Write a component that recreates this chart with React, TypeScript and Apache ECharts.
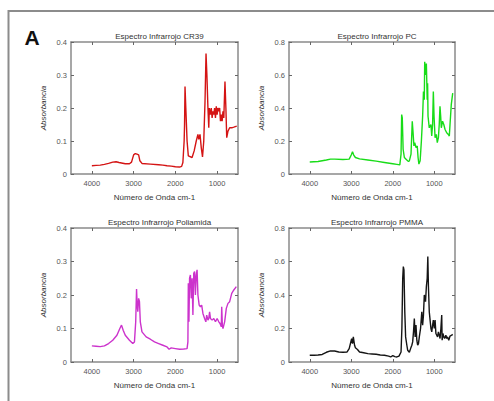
import React, { useEffect, useRef } from "react";
import * as echarts from "echarts";

const xTicks = [4000, 3000, 2000, 1000];

const cr39W = [4000, 3900, 3800, 3700, 3600, 3500, 3420, 3350, 3200, 3100, 3050, 3000, 2960, 2920, 2880, 2850, 2800, 2600, 2400, 2300, 2200, 2100, 2000, 1900, 1850, 1820, 1790, 1780, 1769, 1750, 1720, 1690, 1600, 1550, 1500, 1460, 1440, 1410, 1380, 1350, 1320, 1290, 1266, 1245, 1220, 1200, 1187, 1160, 1140, 1120, 1100, 1080, 1060, 1040, 1020, 1000, 980, 960, 940, 920, 900, 880, 860, 840, 812, 790, 770, 740, 700, 650, 600, 530];
const cr39A = [0.025, 0.026, 0.027, 0.029, 0.032, 0.036, 0.037, 0.035, 0.031, 0.031, 0.036, 0.058, 0.062, 0.06, 0.058, 0.04, 0.032, 0.03, 0.028, 0.027, 0.025, 0.024, 0.022, 0.021, 0.023, 0.035, 0.1, 0.15, 0.265, 0.2, 0.1, 0.055, 0.05, 0.07, 0.1, 0.12, 0.105, 0.12, 0.08, 0.052, 0.1, 0.22, 0.365, 0.3, 0.2, 0.14, 0.2, 0.18, 0.2, 0.17, 0.19, 0.18, 0.2, 0.17, 0.205, 0.18, 0.2, 0.19, 0.2, 0.16, 0.18, 0.16, 0.19, 0.17, 0.28, 0.2, 0.11, 0.13, 0.14, 0.14, 0.142, 0.145];

const pcW = [4000, 3800, 3600, 3500, 3400, 3200, 3050, 3000, 2970, 2940, 2900, 2800, 2600, 2400, 2200, 2000, 1900, 1830, 1800, 1785, 1770, 1750, 1720, 1680, 1620, 1600, 1560, 1530, 1510, 1490, 1470, 1440, 1410, 1390, 1370, 1340, 1310, 1280, 1260, 1240, 1230, 1210, 1190, 1170, 1160, 1150, 1120, 1080, 1061, 1040, 1022, 1005, 980, 950, 927, 900, 880, 862, 845, 830, 800, 770, 740, 700, 660, 637, 620, 590, 555];
const pcA = [0.073, 0.076, 0.085, 0.09, 0.09, 0.088, 0.09, 0.115, 0.135, 0.115, 0.1, 0.092, 0.085, 0.078, 0.07, 0.062, 0.058, 0.055, 0.12, 0.36, 0.34, 0.15, 0.1, 0.09, 0.075, 0.08, 0.12, 0.32, 0.25, 0.17, 0.19, 0.16, 0.17, 0.1, 0.06, 0.08, 0.2, 0.35, 0.5, 0.45, 0.68, 0.6, 0.67, 0.45, 0.55, 0.35, 0.28, 0.3, 0.23, 0.3, 0.5, 0.35, 0.22, 0.24, 0.19, 0.22, 0.3, 0.41, 0.35, 0.28, 0.32, 0.3, 0.27, 0.25, 0.24, 0.23, 0.3, 0.42, 0.49];

const polW = [4000, 3900, 3800, 3700, 3600, 3500, 3400, 3330, 3290, 3250, 3200, 3100, 3020, 2980, 2950, 2930, 2915, 2900, 2880, 2860, 2840, 2800, 2700, 2600, 2500, 2400, 2300, 2200, 2150, 2100, 2000, 1900, 1800, 1720, 1700, 1690, 1675, 1660, 1640, 1620, 1600, 1580, 1560, 1540, 1520, 1500, 1480, 1460, 1430, 1400, 1370, 1340, 1300, 1270, 1250, 1220, 1200, 1180, 1160, 1120, 1080, 1040, 1000, 960, 930, 900, 890, 875, 860, 820, 780, 740, 700, 650, 600, 540];
const polA = [0.048, 0.047, 0.046, 0.048, 0.055, 0.065, 0.08, 0.1, 0.11, 0.095, 0.08, 0.065, 0.055, 0.06, 0.12, 0.218, 0.17, 0.15, 0.19, 0.18, 0.12, 0.09, 0.075, 0.068, 0.06, 0.055, 0.05, 0.045, 0.038, 0.042, 0.04, 0.038, 0.039, 0.04, 0.06, 0.235, 0.12, 0.25, 0.26, 0.19, 0.25, 0.14, 0.265, 0.27, 0.2, 0.26, 0.275, 0.2, 0.17, 0.165, 0.17, 0.145, 0.13, 0.12, 0.14, 0.125, 0.13, 0.15, 0.13, 0.125, 0.13, 0.12, 0.13, 0.12, 0.115, 0.105, 0.165, 0.11, 0.1, 0.12, 0.16, 0.175, 0.18, 0.205, 0.215, 0.225];

const pmmaW = [4000, 3900, 3800, 3700, 3600, 3500, 3400, 3300, 3200, 3100, 3050, 3000, 2990, 2970, 2950, 2920, 2900, 2850, 2800, 2700, 2600, 2500, 2400, 2300, 2200, 2100, 2050, 2000, 1950, 1900, 1850, 1800, 1780, 1760, 1745, 1730, 1710, 1690, 1660, 1640, 1600, 1570, 1540, 1520, 1500, 1480, 1460, 1440, 1420, 1400, 1380, 1360, 1330, 1300, 1280, 1260, 1240, 1210, 1190, 1170, 1155, 1140, 1120, 1100, 1080, 1060, 1040, 1022, 1000, 980, 960, 940, 920, 900, 880, 860, 840, 820, 810, 790, 770, 750, 720, 700, 680, 650, 620, 580, 555];
const pmmaA = [0.04, 0.04, 0.042, 0.045, 0.058, 0.066, 0.066, 0.06, 0.058, 0.06, 0.08, 0.13, 0.14, 0.11, 0.15, 0.1, 0.085, 0.075, 0.06, 0.055, 0.05, 0.048, 0.046, 0.042, 0.04, 0.035, 0.03, 0.038, 0.032, 0.03, 0.035, 0.06, 0.2, 0.5, 0.57, 0.55, 0.3, 0.15, 0.1, 0.07, 0.058, 0.08, 0.1, 0.12, 0.18, 0.26, 0.15, 0.22, 0.13, 0.1, 0.11, 0.15, 0.2, 0.3, 0.22, 0.28, 0.4, 0.36, 0.45, 0.5, 0.63, 0.45, 0.3, 0.25, 0.2, 0.18, 0.22, 0.25, 0.2, 0.25, 0.17, 0.16, 0.15, 0.18, 0.16, 0.14, 0.2, 0.28, 0.13, 0.17, 0.15, 0.14, 0.16, 0.14, 0.15, 0.13, 0.155, 0.16, 0.165];

const panels = [
  { title: "Espectro Infrarrojo CR39", w: cr39W, a: cr39A, max: 0.4, step: 0.1, color: "#d41414", grid: { left: 71, top: 42, width: 167, height: 132 } },
  { title: "Espectro Infrarrojo PC", w: pcW, a: pcA, max: 0.8, step: 0.2, color: "#18dc18", grid: { left: 289, top: 42, width: 166, height: 132 } },
  { title: "Espectro Infrarrojo Poliamida", w: polW, a: polA, max: 0.4, step: 0.1, color: "#cc33cc", grid: { left: 71, top: 228, width: 167, height: 134 } },
  { title: "Espectro Infrarrojo PMMA", w: pmmaW, a: pmmaA, max: 0.8, step: 0.2, color: "#151515", grid: { left: 289, top: 228, width: 166, height: 134 } },
];

const FONT = "Liberation Sans, Arial, sans-serif";
const FRAME = "#8a8a8a";

export default function App() {
  const ref = useRef<HTMLDivElement>(null);
  useEffect(() => {
    if (!ref.current) return;
    const chart = echarts.init(ref.current, null, { renderer: "svg" });
    const grids: any[] = [];
    const xAxes: any[] = [];
    const yAxes: any[] = [];
    const series: any[] = [];
    const titles: any[] = [];
    panels.forEach((p, i) => {
      grids.push({ ...p.grid, containLabel: false });
      titles.push({
        text: p.title,
        left: p.grid.left + p.grid.width / 2,
        top: p.grid.top - 15,
        textAlign: "center",
        textStyle: { fontSize: 8, fontWeight: "normal", color: "#333", fontFamily: FONT },
      });
      const xBase = {
        type: "value",
        gridIndex: i,
        min: 500,
        max: 4500,
        inverse: true,
        splitLine: { show: false },
        axisLine: { show: true, onZero: false, lineStyle: { color: FRAME, width: 1.5 } },
        axisTick: { show: true, inside: true, length: 3, customValues: xTicks, lineStyle: { color: "#666" } },
      };
      xAxes.push({
        ...xBase,
        position: "bottom",
        name: "Número de Onda cm-1",
        nameLocation: "middle",
        nameGap: 19,
        nameTextStyle: { fontSize: 8, color: "#333", fontFamily: FONT },
        axisLabel: {
          show: true,
          customValues: xTicks,
          formatter: (v: number) => String(v),
          fontSize: 7.5,
          color: "#555",
          margin: 5,
          fontFamily: FONT,
        },
      });
      xAxes.push({ ...xBase, position: "top", axisLabel: { show: false } });
      const yBase = {
        type: "value",
        gridIndex: i,
        min: 0,
        max: p.max,
        interval: p.step,
        splitLine: { show: false },
        axisLine: { show: true, onZero: false, lineStyle: { color: FRAME, width: 1.5 } },
        axisTick: { show: true, inside: true, length: 3, lineStyle: { color: "#666" } },
      };
      yAxes.push({
        ...yBase,
        position: "left",
        name: "Absorbancia",
        nameLocation: "middle",
        nameGap: 24,
        nameTextStyle: { fontSize: 8, color: "#333", fontStyle: "italic", fontFamily: FONT },
        axisLabel: { show: true, fontSize: 7.5, color: "#555", margin: 4, fontFamily: FONT },
      });
      yAxes.push({ ...yBase, position: "right", axisLabel: { show: false } });
      series.push({
        type: "line",
        xAxisIndex: i * 2,
        yAxisIndex: i * 2,
        data: p.w.map((w, k) => [w, p.a[k]]),
        showSymbol: false,
        symbol: "none",
        lineStyle: { color: p.color, width: 1.4 },
        silent: true,
      });
    });
    chart.setOption({
      animation: false,
      backgroundColor: "#ffffff",
      title: titles,
      grid: grids,
      xAxis: xAxes,
      yAxis: yAxes,
      series,
      graphic: [
        { type: "line", shape: { x1: 8, y1: 11, x2: 494, y2: 11 }, style: { stroke: "#8c8c8c", lineWidth: 2 } },
        { type: "line", shape: { x1: 8.5, y1: 10, x2: 8.5, y2: 401 }, style: { stroke: "#8c8c8c", lineWidth: 2 } },
        {
          type: "text",
          x: 32,
          y: 37,
          style: { text: "A", fontSize: 21, fontWeight: "bold", fill: "#111", fontFamily: FONT, textAlign: "center", textVerticalAlign: "middle" },
        },
      ],
    });
    return () => chart.dispose();
  }, []);
  return <div ref={ref} style={{ position: "fixed", left: 0, top: 0, width: 494, height: 401 }} />;
}
